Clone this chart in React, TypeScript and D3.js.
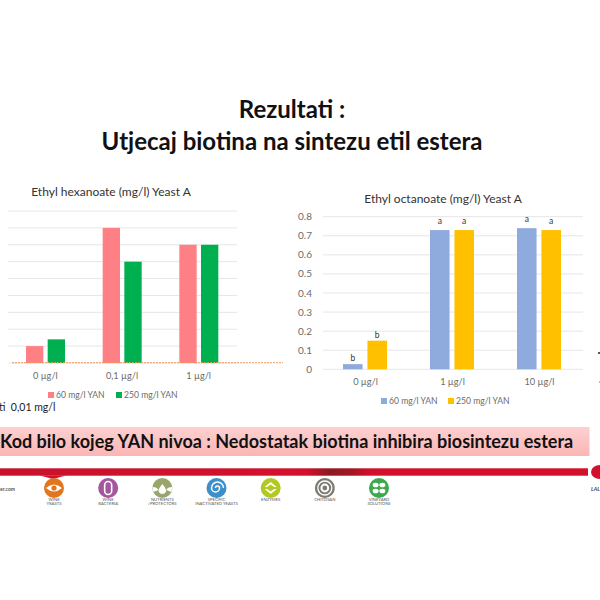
import React from 'react';
import * as d3 from 'd3';

const hexCategories = ['0 µg/l', '0,1 µg/l', '1 µg/l'];
const hexYan60 = [1, 8, 7];
const hexYan250 = [1.4, 6, 7];
const hexTicks = [0, 1, 2, 3, 4, 5, 6, 7, 8, 9];

const octCategories = ['0 µg/l', '1 µg/l', '10 µg/l'];
const octYan60 = [0.027, 0.73, 0.74];
const octYan250 = [0.15, 0.73, 0.73];
const octLetters60 = ['b', 'a', 'a'];
const octLetters250 = ['b', 'a', 'a'];
const octTicks = [0, 0.1, 0.2, 0.3, 0.4, 0.5, 0.6, 0.7, 0.8];

const seriesNames = ['60 mg/l YAN', '250 mg/l YAN'];

const logoNames = ['yeasts', 'bacteria', 'nutrients', 'specific', 'enzymes', 'chitosan', 'vineyard'];
const logoColors = ['#e2761f', '#a5569f', '#98a66c', '#3d8fca', '#b4c91f', '#7e7b73', '#3ba94c'];
const logoLabels = [
  ['WINE', 'YEASTS'],
  ['WINE', 'BACTERIA'],
  ['NUTRIENTS', '/PROTECTORS'],
  ['SPECIFIC', 'INACTIVATED YEASTS'],
  ['ENZYMES'],
  ['CHITOSAN'],
  ['VINEYARD', 'SOLUTIONS'],
];

const FONT = 'Lato, "Open Sans", sans-serif';
const GRID = '#e6e6e6';
const LABEL = '#6b6b6b';

interface BarChartProps {
  title: string;
  titleX: number;
  titleY: number;
  categories: string[];
  a: number[];
  b: number[];
  colors: [string, string];
  ticks: number[];
  left: number;
  right: number;
  top: number;
  bottom: number;
  barStart: number;
  barEnd: number;
  catY: number;
  legendY: number;
  legendX: [number, number];
  showTicks?: boolean;
  lettersA?: string[];
  lettersB?: string[];
}

const BarChart = (p: BarChartProps) => {
  const x0 = d3.scaleBand<string>().domain(p.categories).range([p.left, p.right]);
  const x1 = d3.scaleBand<string>()
    .domain(seriesNames)
    .range([p.barStart, p.barEnd])
    .paddingInner(0.2);
  const y = d3.scaleLinear()
    .domain([0, d3.max(p.ticks) as number])
    .range([p.bottom, p.top]);

  const rows = [p.a, p.b];
  const letters = [p.lettersA, p.lettersB];

  return (
    <g fontFamily={FONT}>
      <text x={p.titleX} y={p.titleY} textAnchor="middle" fontSize={12} fill="#333">{p.title}</text>
      {p.ticks.map(t => (
        <line key={t} x1={p.left + 1} x2={p.right} y1={y(t)} y2={y(t)} stroke={GRID} strokeWidth={1} />
      ))}
      {p.showTicks && p.ticks.map(t => (
        <text key={t} x={p.left - 10} y={y(t) + 3.5} textAnchor="end" fontSize={10} fill={LABEL}>{t}</text>
      ))}
      {p.categories.map((c, i) => (
        <g key={c} transform={`translate(${x0(c)},0)`}>
          {seriesNames.map((s, j) => (
            <g key={s}>
              <rect
                x={x1(s)}
                y={y(rows[j][i])}
                width={x1.bandwidth()}
                height={p.bottom - y(rows[j][i])}
                fill={p.colors[j]}
              />
              {letters[j] && (
                <text
                  x={(x1(s) as number) + x1.bandwidth() / 2}
                  y={y(rows[j][i]) - (letters[j]![i] === 'a' ? 6 : 3)}
                  textAnchor="middle"
                  fontSize={8.5}
                  fill="#333"
                >
                  {letters[j]![i]}
                </text>
              )}
            </g>
          ))}
          <text
            x={x0.bandwidth() / 2}
            y={p.catY}
            textAnchor="middle"
            fontSize={9.2}
            fill={LABEL}
          >
            {c}
          </text>
        </g>
      ))}
      {seriesNames.map((s, j) => (
        <g key={s} transform={`translate(${p.legendX[j]},${p.legendY})`}>
          <rect x={0} y={-6} width={6} height={6} fill={p.colors[j]} />
          <text x={8} y={0} fontSize={8.6} fill={LABEL}>{s}</text>
        </g>
      ))}
    </g>
  );
};

// rough white glyph inside each product circle
const LogoGlyph = ({ name, color }: { name: string; color: string }) => {
  switch (name) {
    case 'yeasts':
      return (
        <g>
          <path d="M-8 0Q0 -7 8 0Q0 7 -8 0Z" fill="#fff" />
          <circle r={2.6} fill={color} />
        </g>
      );
    case 'bacteria':
      return <rect x={-3.5} y={-6.5} width={7} height={13} rx={3.5} fill="none" stroke="#fff" strokeWidth={1.6} />;
    case 'nutrients':
      return <path d="M0 -4Q5 2 3.5 4A4 4 0 0 1 -3.5 4Q-5 2 0 -4ZM-10 -1Q-5 -1 -4 2L-9 4ZM10 -1Q5 -1 4 2L9 4Z" fill="#fff" />;
    case 'specific':
      return <path d="M-1 0A2 2 0 0 1 3 0A4 4 0 0 1 -5 0A6 6 0 0 1 7 0" fill="none" stroke="#fff" strokeWidth={1.5} />;
    case 'enzymes':
      return <path d="M-6 -1L0 -6L6 -1L3.5 -1L0 -3.5L-3.5 -1ZM-6 1L0 6L6 1L3.5 1L0 3.5L-3.5 1Z" fill="#fff" />;
    case 'chitosan':
      return (
        <g fill="none" stroke="#fff">
          <circle r={7} strokeWidth={1.3} />
          <circle r={3.4} strokeWidth={2} />
        </g>
      );
    default:
      return (
        <g fill="#fff">
          <ellipse cx={-3.4} cy={-3} rx={3} ry={2.3} />
          <ellipse cx={3.4} cy={-3} rx={3} ry={2.3} />
          <ellipse cx={-3.4} cy={3} rx={3} ry={2.3} />
          <ellipse cx={3.4} cy={3} rx={3} ry={2.3} />
        </g>
      );
  }
};

const Logos = () => {
  const x = d3.scalePoint<string>().domain(logoNames).range([54, 379]);
  return (
    <g fontFamily={FONT}>
      {logoNames.map((n, i) => (
        <g key={n} transform={`translate(${x(n)},488)`}>
          <circle r={10} fill={logoColors[i]} />
          <LogoGlyph name={n} color={logoColors[i]} />
          {logoLabels[i].map((l, k) => (
            <text key={l} y={12.5 + k * 4.2} textAnchor="middle" fontSize={4.2} fill="#555">{l}</text>
          ))}
        </g>
      ))}
    </g>
  );
};

export default function App() {
  return (
    <svg
      width={600}
      height={600}
      viewBox="0 0 600 600"
      style={{ position: 'fixed', left: 0, top: 0, background: '#fff' }}
    >
      <defs>
        <linearGradient id="banner" x1="0" x2="0" y1="0" y2="1">
          <stop offset="0" stopColor="#fdd0d0" />
          <stop offset="1" stopColor="#fbb5b5" />
        </linearGradient>
        <linearGradient id="strip" x1="0" x2="1" y1="0" y2="0">
          <stop offset="0" stopColor="#c8132b" />
          <stop offset="0.52" stopColor="#d4112c" />
          <stop offset="0.56" stopColor="#8e1a22" />
          <stop offset="0.6" stopColor="#a5161f" />
          <stop offset="0.63" stopColor="#d4112c" />
          <stop offset="1" stopColor="#d4112c" />
        </linearGradient>
      </defs>

      <g fontFamily={FONT} fontWeight={700} fill="#111" textAnchor="middle">
        <text x={292} y={118} fontSize={24}>Rezultati :</text>
        <text x={292} y={150} fontSize={24}>Utjecaj biotina na sintezu etil estera</text>
      </g>

      <BarChart
        title="Ethyl hexanoate (mg/l) Yeast A"
        titleX={111}
        titleY={196}
        categories={hexCategories}
        a={hexYan60}
        b={hexYan250}
        colors={['#fe8085', '#00b050']}
        ticks={hexTicks}
        left={7}
        right={237}
        top={211}
        bottom={363}
        barStart={19}
        barEnd={58}
        catY={379}
        legendX={[48, 116]}
        legendY={398}
      />
      <line x1={12} x2={283} y1={362.7} y2={362.7} stroke="#ed9a5a" strokeWidth={1} strokeDasharray="2 1" />

      <BarChart
        title="Ethyl octanoate (mg/l) Yeast A"
        titleX={443}
        titleY={203}
        categories={octCategories}
        a={octYan60}
        b={octYan250}
        colors={['#8faadc', '#ffc000']}
        ticks={octTicks}
        left={322}
        right={583}
        top={216.7}
        bottom={369.3}
        barStart={21}
        barEnd={65}
        catY={385}
        legendX={[381, 448]}
        legendY={404}
        showTicks
        lettersA={octLetters60}
        lettersB={octLetters250}
      />

      {/* edges of the next chart, cut off by the crop */}
      <rect x={598} y={352} width={2} height={2} fill="#555" />
      <rect x={599} y={381.5} width={1} height={1} fill="#777" />

      <text x={-1} y={411} fontFamily={FONT} fontSize={10.5} fill="#222" xmlSpace="preserve">ti  0,01 mg/l</text>

      <rect x={0} y={427} width={589.5} height={29} fill="url(#banner)" />
      <text x={0} y={448} fontFamily={FONT} fontWeight={700} fontSize={18} fill="#111">
        Kod bilo kojeg YAN nivoa : Nedostatak biotina inhibira biosintezu estera
      </text>

      <rect x={0} y={468.3} width={588} height={7.4} fill="url(#strip)" />
      <path d="M40 475.5L66 475.5L53 479Z" fill="#d4112c" />
      <text x={0} y={491} fontFamily={FONT} fontWeight={700} fontSize={5} fill="#555">er.com</text>
      <Logos />

      <ellipse cx={600} cy={472} rx={9} ry={7} fill="#d4112c" />
      <text x={591} y={491} fontFamily={FONT} fontStyle="italic" fontWeight={700} fontSize={5.5} fill="#444">LAL</text>
    </svg>
  );
}
